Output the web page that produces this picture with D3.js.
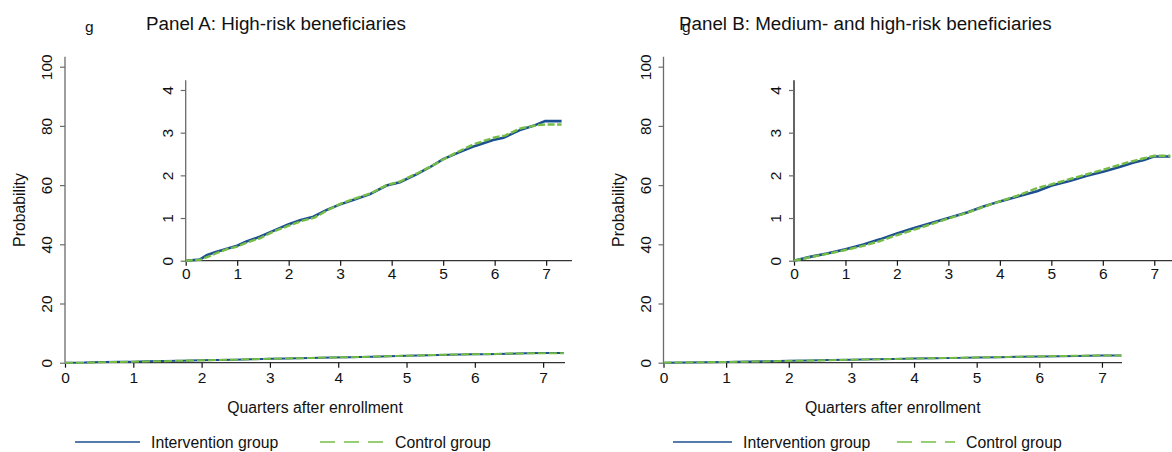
<!DOCTYPE html>
<html>
<head>
<meta charset="utf-8">
<script src="https://cdn.jsdelivr.net/npm/d3@7"></script>
<style>
  html, body { margin: 0; padding: 0; background: #fff; }
  svg { display: block; font-family: Arial, "Liberation Sans", sans-serif; }
</style>
</head>
<body>
<svg id="chart" width="1172" height="452"></svg>
<script>
// Cumulative probability (%) by quarters after enrollment

// Panel A: high-risk beneficiaries
const quartersA_int = [0, 0.28, 0.41, 0.57, 0.8, 1.0, 1.18, 1.44, 1.7, 1.99, 2.22, 2.48, 2.74, 3.0, 3.25, 3.58, 3.9, 4.16, 4.49, 4.74, 5.0, 5.33, 5.62, 5.97, 6.17, 6.49, 6.75, 6.98, 7.3];
const probA_int     = [0, 0.03, 0.13, 0.2, 0.28, 0.35, 0.45, 0.56, 0.7, 0.85, 0.95, 1.03, 1.19, 1.32, 1.42, 1.56, 1.76, 1.84, 2.03, 2.19, 2.38, 2.55, 2.69, 2.83, 2.88, 3.06, 3.16, 3.27, 3.27];
const quartersA_ctl = [0, 0.28, 0.45, 0.6, 0.8, 1.0, 1.2, 1.45, 1.7, 2.0, 2.25, 2.5, 2.75, 3.0, 3.25, 3.6, 3.9, 4.15, 4.5, 4.75, 5.0, 5.3, 5.6, 6.0, 6.2, 6.5, 6.85, 7.0, 7.3];
const probA_ctl     = [0, 0.02, 0.1, 0.18, 0.27, 0.33, 0.43, 0.53, 0.68, 0.82, 0.93, 1.01, 1.18, 1.33, 1.44, 1.58, 1.77, 1.85, 2.05, 2.2, 2.37, 2.56, 2.73, 2.89, 2.93, 3.1, 3.18, 3.19, 3.19];

// Panel B: medium- and high-risk beneficiaries
const quartersB_int = [0, 0.31, 0.64, 1.0, 1.35, 1.67, 2.0, 2.32, 2.65, 3.0, 3.36, 3.68, 4.0, 4.33, 4.72, 5.01, 5.37, 5.69, 6.02, 6.34, 6.6, 6.8, 6.99, 7.31];
const probB_int     = [0, 0.09, 0.17, 0.27, 0.38, 0.5, 0.64, 0.76, 0.875, 1.0, 1.13, 1.27, 1.39, 1.5, 1.63, 1.76, 1.875, 1.99, 2.09, 2.2, 2.3, 2.36, 2.44, 2.44];
const quartersB_ctl = [0, 0.31, 0.64, 1.0, 1.35, 1.67, 2.0, 2.32, 2.65, 3.0, 3.36, 3.68, 4.0, 4.33, 4.72, 5.0, 5.5, 6.0, 6.5, 6.8, 7.0, 7.31];
const probB_ctl     = [0, 0.08, 0.16, 0.25, 0.35, 0.46, 0.6, 0.72, 0.85, 0.99, 1.12, 1.26, 1.39, 1.52, 1.7, 1.79, 1.96, 2.13, 2.31, 2.4, 2.46, 2.46];

const mainYTicks = [0, 20, 40, 60, 80, 100];
const insetYTicks = [0, 1, 2, 3, 4];
const xTicks = [0, 1, 2, 3, 4, 5, 6, 7];

const panelTitles = ["Panel A: High-risk beneficiaries", "Panel B: Medium- and high-risk beneficiaries"];
const seriesNames = ["Intervention group", "Control group"];
const xTitle = "Quarters after enrollment";
const yTitle = "Probability";

const BLUE = "#1c4f91";
const GREEN = "#76bd45";
const AXIS = "#6b6b6b";
const fmt = d3.format("d");

const svg = d3.select("#chart");

function toPoints(xs, ys) { return xs.map((x, i) => [x, ys[i]]); }

const panels = [
  {
    title: panelTitles[0], titleX: 146, gX: 85,
    main: { x0: 65, x1: 565 },
    inset: { x0: 185.7, x1: 571.9, axisColor: AXIS },
    int: toPoints(quartersA_int, probA_int),
    ctl: toPoints(quartersA_ctl, probA_ctl),
    legend: { l1: 75, l2: 140, t1: 151, c1: 320, c2: 383, t2: 395 }
  },
  {
    title: panelTitles[1], titleX: 679, gX: 682,
    main: { x0: 663.5, x1: 1122 },
    inset: { x0: 794, x1: 1180, axisColor: "#111" },
    int: toPoints(quartersB_int, probB_int),
    ctl: toPoints(quartersB_ctl, probB_ctl),
    legend: { l1: 673, l2: 732, t1: 743, c1: 897, c2: 955, t2: 966 }
  }
];

panels.forEach(p => {
  const g = svg.append("g");

  // ---- titles
  g.append("text").attr("x", p.gX).attr("y", 31.5)
    .attr("font-size", 15.5).attr("fill", "#111").text("g");
  g.append("text").attr("x", p.titleX).attr("y", 30)
    .attr("font-size", 18.8).attr("fill", "#111").text(p.title);

  // ---- main plot (0-100 scale)
  const x = d3.scaleLinear().domain([0, 7.32]).range([p.main.x0, p.main.x1]);
  const y = d3.scaleLinear().domain([0, 100]).range([362.7, 66.7]);

  const yAxis = g.append("g").attr("transform", `translate(${p.main.x0},0)`)
    .call(d3.axisLeft(y).tickValues(mainYTicks).tickFormat(fmt).tickSize(5));
  yAxis.select(".domain").attr("d", `M0,${y(0)}V${y(103.4)}`).attr("stroke", AXIS).attr("stroke-width", 1.3);
  yAxis.selectAll(".tick line").attr("stroke", AXIS).attr("stroke-width", 1.2);
  yAxis.selectAll(".tick text")
    .attr("font-size", 15.5).attr("fill", "#111")
    .attr("x", null).attr("dy", null).attr("y", 0)
    .attr("text-anchor", "middle")
    .attr("transform", "translate(-13,0) rotate(-90)");

  const xAxis = g.append("g").attr("transform", `translate(0,${y(0)})`)
    .call(d3.axisBottom(x).tickValues(xTicks).tickFormat(fmt).tickSize(5).tickPadding(4));
  xAxis.select(".domain").attr("d", `M${x(0)},0H${x(7.32)}`).attr("stroke", "#333").attr("stroke-width", 1.3);
  xAxis.selectAll(".tick line").attr("stroke", "#111").attr("stroke-width", 1.2);
  xAxis.selectAll(".tick text").attr("font-size", 15.5).attr("fill", "#111").attr("dy", "0.71em");

  g.append("text").attr("x", (p.main.x0 + p.main.x1) / 2).attr("y", 413)
    .attr("text-anchor", "middle").attr("font-size", 15.8).attr("fill", "#111").text(xTitle);
  g.append("text")
    .attr("transform", `translate(${p.main.x0 - 40},210) rotate(-90)`)
    .attr("text-anchor", "middle").attr("font-size", 15.8).attr("fill", "#111").text(yTitle);

  // main-scale curves: values are in percent already
  const mainLine = d3.line().x(d => x(d[0])).y(d => y(d[1]));
  g.append("path").datum(p.int).attr("d", mainLine)
    .attr("fill", "none").attr("stroke", BLUE).attr("stroke-width", 2);
  g.append("path").datum(p.ctl).attr("d", mainLine)
    .attr("fill", "none").attr("stroke", GREEN).attr("stroke-width", 2)
    .attr("stroke-dasharray", "8,3");

  // ---- inset (zoomed 0-4 scale)
  const xi = d3.scaleLinear().domain([0, 7.5]).range([p.inset.x0, p.inset.x1]);
  const yi = d3.scaleLinear().domain([0, 4]).range([260.7, 90]);

  const yiAxis = g.append("g").attr("transform", `translate(${p.inset.x0},0)`)
    .call(d3.axisLeft(yi).tickValues(insetYTicks).tickFormat(fmt).tickSize(5));
  yiAxis.select(".domain").attr("d", `M0,${yi(0)}V${yi(4.23)}`).attr("stroke", p.inset.axisColor).attr("stroke-width", 1.3);
  yiAxis.selectAll(".tick line").attr("stroke", AXIS).attr("stroke-width", 1.2);
  yiAxis.selectAll(".tick text")
    .attr("font-size", 15.5).attr("fill", "#111")
    .attr("x", null).attr("dy", null).attr("y", 0)
    .attr("text-anchor", "middle")
    .attr("transform", "translate(-13,0) rotate(-90)");

  const xiAxis = g.append("g").attr("transform", `translate(0,${yi(0)})`)
    .call(d3.axisBottom(xi).tickValues(xTicks).tickFormat(fmt).tickSize(5).tickPadding(2));
  xiAxis.select(".domain").attr("d", `M${xi(0)},0H${xi(7.5)}`).attr("stroke", "#333").attr("stroke-width", 1.3);
  xiAxis.selectAll(".tick line").attr("stroke", "#111").attr("stroke-width", 1.2);
  xiAxis.selectAll(".tick text").attr("font-size", 15.5).attr("fill", "#111").attr("dy", "0.71em");

  const insetLine = d3.line().x(d => xi(d[0])).y(d => yi(d[1]));
  g.append("path").datum(p.int).attr("d", insetLine)
    .attr("fill", "none").attr("stroke", BLUE).attr("stroke-width", 2.6);
  g.append("path").datum(p.ctl).attr("d", insetLine)
    .attr("fill", "none").attr("stroke", GREEN).attr("stroke-width", 2.4)
    .attr("stroke-dasharray", "7,2.5");

  // ---- legend
  const ly = 442;
  g.append("line").attr("x1", p.legend.l1).attr("x2", p.legend.l2).attr("y1", ly).attr("y2", ly)
    .attr("stroke", BLUE).attr("stroke-width", 1.6);
  g.append("text").attr("x", p.legend.t1).attr("y", ly + 5.5)
    .attr("font-size", 15.8).attr("fill", "#111").text(seriesNames[0]);
  g.append("line").attr("x1", p.legend.c1).attr("x2", p.legend.c2).attr("y1", ly).attr("y2", ly)
    .attr("stroke", GREEN).attr("stroke-width", 1.6).attr("stroke-dasharray", "15,9");
  g.append("text").attr("x", p.legend.t2).attr("y", ly + 5.5)
    .attr("font-size", 15.8).attr("fill", "#111").text(seriesNames[1]);
});
</script>
</body>
</html>
